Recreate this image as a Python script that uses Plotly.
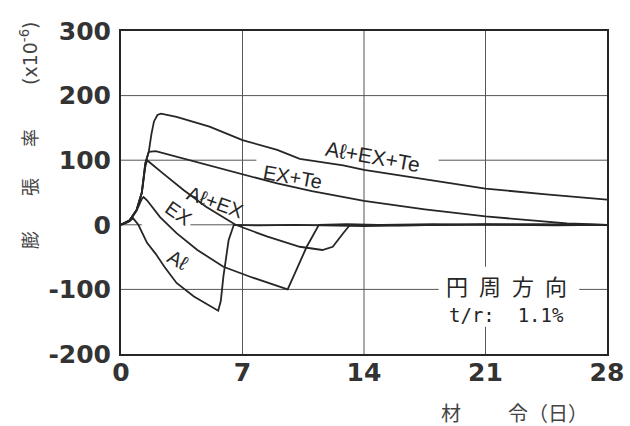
import plotly.graph_objects as go

# Expansion strain (x10^-6) versus age in days, circumferential direction
days_al = [0, 0.4, 0.7, 1.0, 1.5, 2.0, 2.5, 3.2, 4.2, 5.1, 5.6, 5.75, 5.9, 6.2, 6.5, 8, 10, 14, 18, 21, 24, 28]
strain_al = [0, 4, 10, 0, -28, -45, -65, -90, -111, -126, -133, -118, -80, -24, 0, -1, 0, -2, 0, 1, 0, 0]

days_ex = [0, 0.5, 0.9, 1.2, 1.3, 1.5, 2.25, 3.2, 4.4, 5.9, 7.4, 8.6, 9.35, 9.6, 9.9, 10.7, 11.4, 13, 16, 20, 24, 28]
strain_ex = [0, 6, 22, 40, 43, 38, 12, -13, -39, -65, -80, -91, -98, -100, -82, -34, 0, 1, -1, 0, 1, 0]

days_alex = [0, 0.5, 0.9, 1.2, 1.4, 1.5, 2.4, 3.6, 4.9, 6.6, 8.4, 10.3, 11.6, 12.2, 12.8, 13.2, 15, 18, 22, 25, 28]
strain_alex = [0, 7, 23, 50, 90, 100, 80, 54, 28, 0, -18, -34, -39, -34, -13, 0, 0, 1, 0, -1, 0]

days_exte = [0, 0.5, 0.9, 1.2, 1.4, 1.6, 2.0, 3.0, 5.0, 7.0, 9.0, 11.0, 14.0, 17.5, 21.0, 24.0, 25.7, 27.0, 28]
strain_exte = [0, 7, 23, 50, 95, 113, 114, 107, 93, 78, 64, 52, 37, 24, 13, 6, 2, 1, 0]

days_alexte = [0, 0.5, 0.9, 1.2, 1.4, 1.6, 1.75, 1.9, 2.1, 2.3, 3.2, 5.1, 7.0, 9.0, 10.3, 12.8, 14.0, 17.5, 21.0, 24.5, 28]
strain_alexte = [0, 7, 23, 50, 95, 113, 140, 160, 170, 172, 167, 152, 131, 116, 102, 92, 85, 70, 56, 47, 39]

xtick_vals = [0, 7, 14, 21, 28]
xtick_text = ["0", "7", "14", "21", "28"]
ytick_vals = [-200, -100, 0, 100, 200, 300]
ytick_text = ["-200", "-100", "0", "100", "200", "300"]

series = [
    ("Aℓ", days_al, strain_al),
    ("EX", days_ex, strain_ex),
    ("Aℓ+EX", days_alex, strain_alex),
    ("EX+Te", days_exte, strain_exte),
    ("Aℓ+EX+Te", days_alexte, strain_alexte),
]

INK = "#262626"
GRID = "#555555"

fig = go.Figure()
for name, xs, ys in series:
    fig.add_trace(go.Scatter(x=xs, y=ys, mode="lines", name=name,
                             line=dict(color=INK, width=1.8), showlegend=False,
                             hoverinfo="skip"))

# grid segments (some interrupted where the labels sit)
grid_segments = [
    ((0, 200), (28, 200)),
    ((0, 100), (7.8, 100)),
    ((18.3, 100), (28, 100)),
    ((0, 0), (1.2, 0)),
    ((4.0, 0), (28, 0)),
    ((0, -100), (18.3, -100)),
    ((26.4, -100), (28, -100)),
    ((7, -200), (7, 300)),
    ((14, -200), (14, 300)),
    ((21, -65), (21, 300)),
    ((21, -200), (21, -158)),
]
for (x0, y0), (x1, y1) in grid_segments:
    fig.add_shape(type="line", x0=x0, y0=y0, x1=x1, y1=y1, xref="x", yref="y",
                  line=dict(color=GRID, width=1), layer="below")

curve_labels = [
    ("Aℓ+EX+Te", 14.5, 106, 10, 21),
    ("EX+Te", 9.9, 74, 10, 20),
    ("Aℓ+EX", 5.4, 35, 20, 20),
    ("EX", 3.3, 18, 35, 20),
    ("Aℓ", 3.3, -54, 30, 20),
]
for txt, x, y, ang, size in curve_labels:
    fig.add_annotation(x=x, y=y, xref="x", yref="y", text=txt, showarrow=False,
                       textangle=ang, font=dict(family="Liberation Sans", size=size, color=INK))

jp = "Noto Sans CJK JP"
fig.add_annotation(x=22.2, y=-93, xref="x", yref="y", text="円\u2002周\u2002方\u2002向",
                   showarrow=False, font=dict(family=jp, size=22, color=INK))
fig.add_annotation(x=22.2, y=-139, xref="x", yref="y", text="t/r:\u00a0\u00a01.1%",
                   showarrow=False, font=dict(family="DejaVu Sans Mono", size=19, color=INK))

# plot area in pixels, used to place the axis titles outside it
PX_L, PX_R, PX_T, PX_B = 121, 607, 31, 354


def px_to_paper(px, py):
    return (px - PX_L) / (PX_R - PX_L), (PX_B - py) / (PX_B - PX_T)


def outer_label(px, py, text, font, angle=0):
    ax, ay = px_to_paper(px, py)
    fig.add_annotation(x=ax, y=ay, xref="paper", yref="paper",
                       xanchor="center", yanchor="middle", text=text,
                       showarrow=False, textangle=angle, font=font)


# y-axis title, drawn character by character
for txt, py in [("膨", 240), ("張", 187), ("率", 138)]:
    outer_label(29, py, txt, dict(family=jp, size=18, color="#444"), -90)
outer_label(29, 53, "(x10<sup>-6</sup>)", dict(family="DejaVu Sans", size=19, color="#444"), -90)

# x-axis title
outer_label(451, 412, "材", dict(family=jp, size=20, color="#444"))
outer_label(548, 412, "令（日）", dict(family=jp, size=20, color="#444"))

tick_font = dict(family="DejaVu Sans", size=25, color="#333", weight="bold")
fig.update_xaxes(range=[0, 28], tickvals=xtick_vals, ticktext=xtick_text,
                 showgrid=False, zeroline=False, showline=True, mirror=True,
                 linecolor=INK, linewidth=2, ticks="", tickfont=tick_font,
                 ticklabelstandoff=-5)
fig.update_yaxes(range=[-200, 300], tickvals=ytick_vals, ticktext=ytick_text,
                 showgrid=False, zeroline=False, showline=True, mirror=True,
                 linecolor=INK, linewidth=2, ticks="", tickfont=tick_font,
                 ticklabelstandoff=3)

fig.update_layout(width=630, height=426, margin=dict(l=121, r=23, t=31, b=72, autoexpand=False),
                  plot_bgcolor="white", paper_bgcolor="white")

fig.write_html("out.html")
